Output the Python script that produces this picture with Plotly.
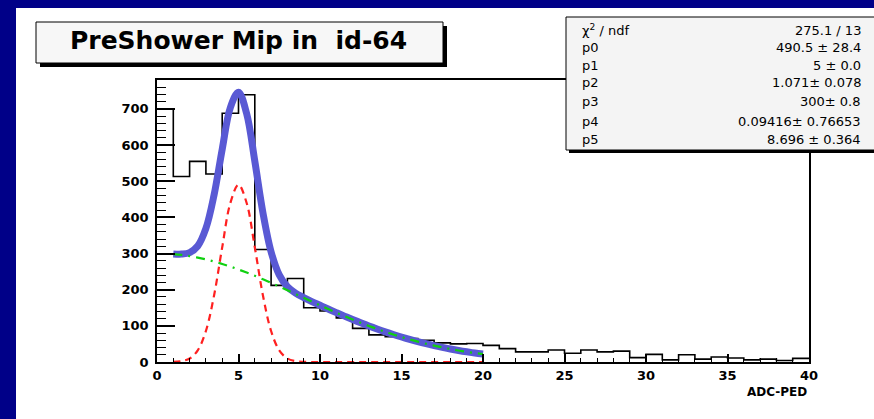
import plotly.graph_objects as go

# ---------------- data ----------------
bin_edges = list(range(0, 41))
bin_counts = [700, 513, 555, 520, 688, 739, 311, 212, 231, 150,
              141, 122, 93, 75, 70, 65, 60, 53, 50, 51,
              46, 37, 28, 28, 33, 24, 33, 28, 30, 12,
              21, 6, 20, 8, 14, 11, 6, 8, 4, 10]

fit_x = [1, 1.5, 2, 2.5, 3, 3.5, 4, 4.5, 5, 5.5, 6, 6.5, 7, 7.5, 8, 8.5, 9, 9.5,
         10, 10.5, 11, 11.5, 12, 12.5, 13, 13.5, 14, 14.5, 15, 15.5, 16, 16.5,
         17, 17.5, 18, 18.5, 19, 19.5, 20]
total_fit = [299, 298.5, 302.6, 320.9, 369.5, 461.8, 588.4, 703.7, 746.3, 687.1,
             555.5, 412.6, 304.7, 241.0, 208.1, 190.4, 178.1, 167.1,
             156.9, 146.6, 136.6, 126.9, 117.5, 108.4, 99.8, 91.4, 83.4, 76.0,
             69.1, 62.5, 56.3, 50.6, 45.3, 40.5, 36.0, 31.9, 28.2, 24.9, 21.9]
signal_fit = [0.5, 2.4, 9.7, 32.2, 85.8, 183.9, 317.2, 439.8, 490.5, 439.8,
              317.2, 183.9, 85.8, 32.2, 9.7, 2.4, 0.5, 0,
              0, 0, 0, 0, 0, 0, 0, 0, 0, 0, 0, 0, 0, 0, 0, 0, 0, 0, 0, 0, 0]
background_fit = [298.4, 296.1, 292.9, 288.7, 283.7, 277.9, 271.2, 263.9, 255.8, 247.3,
                  238.3, 228.7, 218.9, 208.8, 198.4, 188.0, 177.6, 167.1,
                  156.9, 146.6, 136.6, 126.9, 117.5, 108.4, 99.8, 91.4, 83.4, 76.0,
                  69.1, 62.5, 56.3, 50.6, 45.3, 40.5, 36.0, 31.9, 28.2, 24.9, 21.9]

x_ticks = [0, 5, 10, 15, 20, 25, 30, 35, 40]
y_ticks = [0, 100, 200, 300, 400, 500, 600, 700]

title_text = "PreShower Mip in  id-64"
x_title = "ADC-PED"
stat_labels = ["χ<sup>2</sup> / ndf", "p0", "p1", "p2", "p3", "p4", "p5"]
stat_values = ["275.1 / 13", "490.5 ± 28.4", "5 ± 0.0", "1.071± 0.078",
               "300± 0.8", "0.09416± 0.76653", "8.696 ± 0.364"]

# ---------------- layout geometry (pixels) ----------------
W, H = 874, 419
L, R, T, B = 157, 809, 80, 362
FONT = "DejaVu Sans"


def px(x):
    return (x - L) / (R - L)


def py(y):
    return (B - y) / (B - T)


fig = go.Figure()

# histogram as a step line
fig.add_trace(go.Scatter(
    x=bin_edges, y=bin_counts + [bin_counts[-1]],
    mode="lines", line=dict(color="black", width=1.6, shape="hv"),
    hoverinfo="skip", showlegend=False))

fig.add_trace(go.Scatter(
    x=fit_x, y=total_fit, mode="lines",
    line=dict(color="#5959d4", width=7, shape="spline"), showlegend=False))
fig.add_trace(go.Scatter(
    x=fit_x, y=signal_fit, mode="lines",
    line=dict(color="#ff2020", width=2.2, dash="7px,5px", shape="spline"), showlegend=False))
fig.add_trace(go.Scatter(
    x=fit_x, y=background_fit, mode="lines",
    line=dict(color="#10d010", width=2.2, dash="9px,6px,2px,6px", shape="spline"),
    showlegend=False))

shapes = []
# white canvas inside the navy frame
shapes.append(dict(type="rect", xref="paper", yref="paper",
                   x0=px(16), x1=px(W + 10), y0=py(H + 10), y1=py(8),
                   fillcolor="white", line=dict(width=0), layer="below"))
# title box shadow + box
shapes.append(dict(type="rect", xref="paper", yref="paper",
                   x0=px(40), x1=px(447), y0=py(67), y1=py(26),
                   fillcolor="black", line=dict(width=0), layer="above"))
shapes.append(dict(type="rect", xref="paper", yref="paper",
                   x0=px(36), x1=px(443), y0=py(63), y1=py(22),
                   fillcolor="#f7f7f7", line=dict(color="black", width=1), layer="above"))
# stats box shadow + box
shapes.append(dict(type="rect", xref="paper", yref="paper",
                   x0=px(569), x1=px(W + 10), y0=py(153), y1=py(20),
                   fillcolor="black", line=dict(width=0), layer="above"))
shapes.append(dict(type="rect", xref="paper", yref="paper",
                   x0=px(566), x1=px(W + 10), y0=py(150), y1=py(17),
                   fillcolor="#f4f4f4", line=dict(color="black", width=1), layer="above"))

annotations = []
annotations.append(dict(xref="paper", yref="paper", x=px(238), y=py(41),
                        text=title_text, showarrow=False, xanchor="center", yanchor="middle",
                        font=dict(family=FONT, size=25, color="black", weight="bold")))
row_y = [30, 47, 65, 83, 101, 121, 139]
for lab, val, yy in zip(stat_labels, stat_values, row_y):
    annotations.append(dict(xref="paper", yref="paper", x=px(580), y=py(yy),
                            text=lab, showarrow=False, xanchor="left", yanchor="middle",
                            font=dict(family=FONT, size=13, color="black")))
    annotations.append(dict(xref="paper", yref="paper", x=px(863), y=py(yy),
                            text=val, showarrow=False, xanchor="right", yanchor="middle",
                            font=dict(family=FONT, size=13, color="black")))
annotations.append(dict(xref="paper", yref="paper", x=px(809), y=py(392),
                        text=x_title, showarrow=False, xanchor="right", yanchor="middle",
                        font=dict(family=FONT, size=12, color="black", weight="bold")))

tickfont = dict(family=FONT, size=13, color="black", weight="bold")
fig.update_layout(
    width=W, height=H,
    margin=dict(l=L, r=W - R, t=T, b=H - B, pad=0),
    paper_bgcolor="#000088",
    plot_bgcolor="white",
    shapes=shapes,
    annotations=annotations,
    showlegend=False,
    xaxis=dict(range=[0, 40], tickvals=x_ticks, ticktext=[str(v) for v in x_ticks],
               showgrid=False, zeroline=False, showline=True, linecolor="black", linewidth=1.5,
               mirror=True, ticks="inside", ticklen=8, tickwidth=1.5, tickcolor="black",
               minor=dict(dtick=1, ticks="inside", ticklen=4, tickwidth=1.2, tickcolor="black"),
               ticklabelstandoff=1, tickfont=tickfont),
    yaxis=dict(range=[0, 780], tickvals=y_ticks, ticktext=[str(v) for v in y_ticks],
               showgrid=False, zeroline=False, showline=True, linecolor="black", linewidth=1.5,
               mirror=True, ticks="inside", ticklen=18, tickwidth=1.5, tickcolor="black",
               minor=dict(dtick=20, ticks="inside", ticklen=9, tickwidth=1.2, tickcolor="black"),
               ticklabelstandoff=4, tickfont=tickfont),
)

fig.write_html("out.html", config={"displayModeBar": False},
               post_script="document.body.style.margin='0px';document.body.style.overflow='hidden';")
